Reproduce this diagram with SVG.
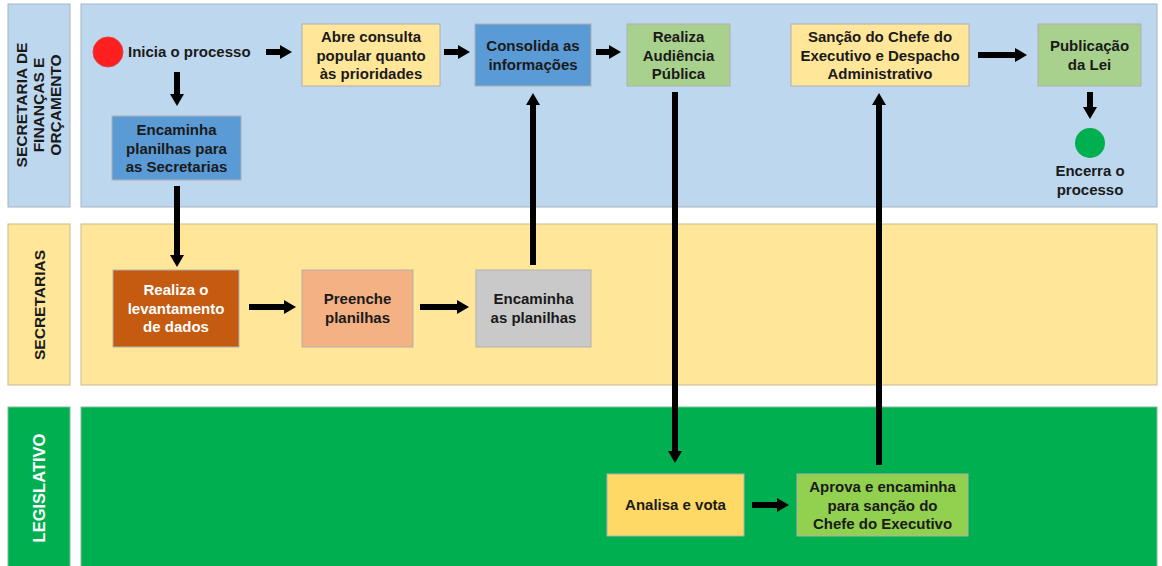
<svg xmlns="http://www.w3.org/2000/svg" width="1162" height="566" viewBox="0 0 1162 566">
<defs>
<marker id="ah" markerUnits="userSpaceOnUse" markerWidth="12" markerHeight="14" refX="1" refY="7" orient="auto">
<path d="M0,0 L12,7 L0,14 Z" fill="#000"/>
</marker>
<style>
.lane1{fill:#bdd7ee;stroke:#a6b3c0;stroke-width:1}
.lane2{fill:#ffe699;stroke:#c8bb8e;stroke-width:1}
.lane3{fill:#00b050;stroke:#7fbf8f;stroke-width:1}
.lbl{font-family:"Liberation Sans",Arial,sans-serif;font-weight:bold;font-size:15.5px;text-anchor:middle}
.t{font-family:"Liberation Sans",Arial,sans-serif;font-weight:bold;font-size:15px;text-anchor:middle;fill:#1a1a1a}
.box{stroke:#b0b0b0;stroke-width:1}
.c{stroke:#000;stroke-width:6;fill:none;marker-end:url(#ah)}
</style>
</defs>
<rect width="1162" height="566" fill="#fff"/>
<g id="lane-financas">
<rect class="lane1" x="8" y="4" width="62" height="203"/>
<rect class="lane1" x="81" y="4" width="1076" height="203"/>
<text class="lbl" fill="#1a1a1a" transform="translate(39,105) rotate(-90)"><tspan x="0" y="-12">SECRETARIA DE</tspan><tspan x="0" y="5">FINANÇAS E</tspan><tspan x="0" y="22">ORÇAMENTO</tspan></text>
</g>
<g id="lane-secretarias">
<rect class="lane2" x="8" y="224" width="62" height="161"/>
<rect class="lane2" x="81" y="224" width="1076" height="161"/>
<text class="lbl" fill="#1a1a1a" transform="translate(39,305) rotate(-90)"><tspan x="0" y="6">SECRETARIAS</tspan></text>
</g>
<g id="lane-legislativo">
<rect class="lane3" x="8" y="407" width="62" height="165"/>
<rect class="lane3" x="81" y="407" width="1076" height="165"/>
<text class="lbl" fill="#fff" style="font-size:16.5px" transform="translate(39,488) rotate(-90)"><tspan x="0" y="6">LEGISLATIVO</tspan></text>
</g>
<g id="connectors">
<line class="c" x1="266" y1="52" x2="281" y2="52"/>
<line class="c" x1="177" y1="72" x2="177" y2="95"/>
<line class="c" x1="177" y1="186" x2="177" y2="256"/>
<line class="c" x1="444" y1="52" x2="459" y2="52"/>
<line class="c" x1="596" y1="52" x2="610" y2="52"/>
<line class="c" x1="978" y1="55" x2="1016" y2="55"/>
<line class="c" x1="1090" y1="92" x2="1090" y2="108"/>
<line class="c" x1="249" y1="307" x2="285" y2="307"/>
<line class="c" x1="420" y1="307" x2="458" y2="307"/>
<line class="c" x1="533" y1="265" x2="533" y2="104"/>
<line class="c" x1="675" y1="92" x2="675" y2="452"/>
<line class="c" x1="879" y1="465" x2="879" y2="104"/>
<line class="c" x1="752" y1="505" x2="778" y2="505"/>
</g>
<g id="inicio">
<circle cx="108" cy="52" r="15" fill="#ff1f1f" stroke="#e04040" stroke-width="1"/>
<text class="t" x="128" y="57" style="text-anchor:start">Inicia o processo</text>
</g>
<g id="encaminha-planilhas">
<rect class="box" x="112" y="116" width="129" height="64" fill="#5b9bd5"/>
<text class="t" x="176.5" y="135"><tspan x="176.5">Encaminha</tspan><tspan x="176.5" dy="18.5">planilhas para</tspan><tspan x="176.5" dy="18.5">as Secretarias</tspan></text>
</g>
<g id="abre-consulta">
<rect class="box" x="302" y="24" width="138" height="62" fill="#ffe699"/>
<text class="t" x="371" y="42"><tspan x="371">Abre consulta</tspan><tspan x="371" dy="18.5">popular quanto</tspan><tspan x="371" dy="18.5">às prioridades</tspan></text>
</g>
<g id="consolida">
<rect class="box" x="475" y="24" width="116" height="62" fill="#5b9bd5"/>
<text class="t" x="533" y="51"><tspan x="533">Consolida as</tspan><tspan x="533" dy="18.5">informações</tspan></text>
</g>
<g id="audiencia">
<rect class="box" x="627" y="24" width="103" height="62" fill="#a9d18e"/>
<text class="t" x="678.5" y="42"><tspan x="678.5">Realiza</tspan><tspan x="678.5" dy="18.5">Audiência</tspan><tspan x="678.5" dy="18.5">Pública</tspan></text>
</g>
<g id="sancao">
<rect class="box" x="791" y="24" width="178" height="62" fill="#ffe699"/>
<text class="t" x="880" y="42"><tspan x="880">Sanção do Chefe do</tspan><tspan x="880" dy="18.5">Executivo e Despacho</tspan><tspan x="880" dy="18.5">Administrativo</tspan></text>
</g>
<g id="publicacao">
<rect class="box" x="1038" y="24" width="103" height="62" fill="#a9d18e"/>
<text class="t" x="1089.5" y="51"><tspan x="1089.5">Publicação</tspan><tspan x="1089.5" dy="18.5">da Lei</tspan></text>
</g>
<g id="fim">
<circle cx="1090" cy="143" r="15" fill="#00b050"/>
<text class="t" x="1090" y="176"><tspan x="1090">Encerra o</tspan><tspan x="1090" dy="19">processo</tspan></text>
</g>
<g id="levantamento">
<rect class="box" x="113" y="270" width="126" height="77" fill="#c55a11"/>
<text class="t" x="176" y="295" style="fill:#fff"><tspan x="176">Realiza o</tspan><tspan x="176" dy="18.5">levantamento</tspan><tspan x="176" dy="18.5">de dados</tspan></text>
</g>
<g id="preenche">
<rect class="box" x="302" y="270" width="111" height="77" fill="#f4b183"/>
<text class="t" x="357.5" y="304"><tspan x="357.5">Preenche</tspan><tspan x="357.5" dy="18.5">planilhas</tspan></text>
</g>
<g id="encaminha-as">
<rect class="box" x="476" y="270" width="115" height="77" fill="#c9c9c9"/>
<text class="t" x="533.5" y="304"><tspan x="533.5">Encaminha</tspan><tspan x="533.5" dy="18.5">as planilhas</tspan></text>
</g>
<g id="analisa">
<rect class="box" x="607" y="474" width="137" height="62" fill="#ffd966"/>
<text class="t" x="675.5" y="510">Analisa e vota</text>
</g>
<g id="aprova">
<rect class="box" x="797" y="474" width="171" height="62" fill="#92d050"/>
<text class="t" x="882.5" y="492"><tspan x="882.5">Aprova e encaminha</tspan><tspan x="882.5" dy="18.5">para sanção do</tspan><tspan x="882.5" dy="18.5">Chefe do Executivo</tspan></text>
</g>
</svg>
